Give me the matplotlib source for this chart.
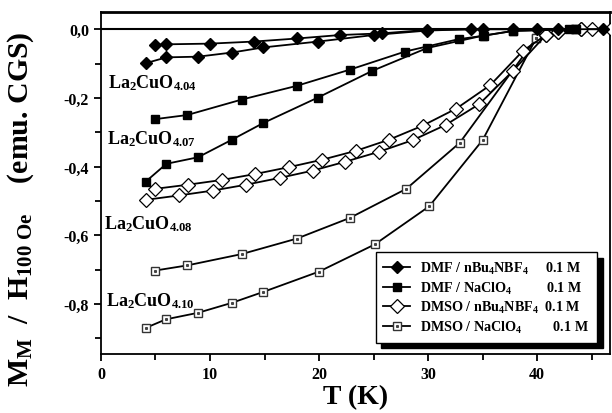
import matplotlib
matplotlib.use("Agg")
import matplotlib.pyplot as plt
from matplotlib.legend_handler import HandlerTuple
from matplotlib.ticker import MultipleLocator, FuncFormatter

plt.rcParams['font.family'] = ['Liberation Serif', 'DejaVu Serif']
plt.rcParams['font.weight'] = 'bold'
plt.rcParams['mathtext.fontset'] = 'custom'
plt.rcParams['mathtext.rm'] = 'Liberation Serif:bold'
plt.rcParams['mathtext.it'] = 'Liberation Serif:bold'
plt.rcParams['mathtext.bf'] = 'Liberation Serif:bold'

# DMF / nBu4NBF4 (La2CuO4.04), two curves
t_dmf_bf4_a = [5, 6, 10, 14, 18, 21.9, 25.8, 29.9, 35, 40, 46]
m_dmf_bf4_a = [-0.046, -0.044, -0.042, -0.036, -0.027, -0.017, -0.012, -0.002, 0, 0, 0]
t_dmf_bf4_b = [4.1, 6, 8.9, 12, 14.9, 19.9, 25, 29.9, 33.9, 37.8, 41.9]
m_dmf_bf4_b = [-0.099, -0.082, -0.080, -0.068, -0.053, -0.036, -0.017, -0.004, 0, 0, 0]

# DMF / NaClO4 (La2CuO4.07)
t_dmf_clo4_a = [4.95, 7.9, 12.9, 17.95, 22.8, 27.9, 32.8, 35.1, 37.8, 42.9]
m_dmf_clo4_a = [-0.262, -0.25, -0.205, -0.165, -0.118, -0.065, -0.029, -0.019, -0.005, 0]
t_dmf_clo4_b = [4.1, 6, 8.9, 12, 14.9, 19.9, 24.9, 29.9, 35, 37.8, 43.6]
m_dmf_clo4_b = [-0.444, -0.392, -0.373, -0.322, -0.273, -0.199, -0.121, -0.055, -0.019, -0.005, 0]

# DMSO / nBu4NBF4 (La2CuO4.08)
t_dmso_bf4_a = [4.95, 7.95, 11.1, 14.1, 17.2, 20.3, 23.4, 26.4, 29.5, 32.6, 35.7, 38.7, 40.8, 41.9, 44, 45]
m_dmso_bf4_a = [-0.465, -0.453, -0.439, -0.422, -0.402, -0.38, -0.354, -0.322, -0.281, -0.231,
                -0.163, -0.063, -0.017, -0.008, 0, 0]
t_dmso_bf4_b = [4.1, 7.2, 10.25, 13.3, 16.4, 19.4, 22.4, 25.5, 28.6, 31.6, 34.7, 37.8, 40.8, 41.9, 44, 46.8]
m_dmso_bf4_b = [-0.497, -0.484, -0.47, -0.453, -0.433, -0.412, -0.386, -0.357, -0.323, -0.279,
                -0.218, -0.121, -0.017, -0.008, 0, 0]

# DMSO / NaClO4 (La2CuO4.10)
t_dmso_clo4_a = [4.95, 7.9, 12.9, 17.95, 22.8, 28, 32.9, 39.9, 43.5]
m_dmso_clo4_a = [-0.703, -0.688, -0.655, -0.61, -0.55, -0.465, -0.331, -0.027, 0]
t_dmso_clo4_b = [4.1, 5.96, 8.9, 12, 14.9, 20, 25.1, 30.1, 35, 39.9, 43.5]
m_dmso_clo4_b = [-0.87, -0.845, -0.826, -0.797, -0.765, -0.706, -0.627, -0.516, -0.323, -0.027, 0]

labels = [r'DMF / nBu$_4$NBF$_4$     0.1 M',
          r'DMF / NaClO$_4$          0.1 M',
          r'DMSO / nBu$_4$NBF$_4$  0.1 M',
          r'DMSO / NaClO$_4$         0.1 M']
sample_names = [r'La$_2$CuO$_{4.04}$', r'La$_2$CuO$_{4.07}$',
                r'La$_2$CuO$_{4.08}$', r'La$_2$CuO$_{4.10}$']
sample_pos = [(0.65, -0.155), (0.55, -0.318), (0.3, -0.565), (0.5, -0.79)]

fig = plt.figure(figsize=(6.12, 4.14), dpi=100)
ax = fig.add_axes([0.165, 0.1425, 0.832, 0.826])

lw = 1.3
h1, = ax.plot(t_dmf_bf4_a, m_dmf_bf4_a, '-D', color='black', ms=6.5, lw=lw, zorder=5)
ax.plot(t_dmf_bf4_b, m_dmf_bf4_b, '-D', color='black', ms=6.5, lw=lw, zorder=5)
h2, = ax.plot(t_dmf_clo4_a, m_dmf_clo4_a, '-s', color='black', ms=6, lw=lw, zorder=5)
ax.plot(t_dmf_clo4_b, m_dmf_clo4_b, '-s', color='black', ms=6, lw=lw, zorder=5)
h3, = ax.plot(t_dmso_bf4_a, m_dmso_bf4_a, '-D', color='black', mfc='white', mew=0.9, ms=7, lw=lw, zorder=4)
ax.plot(t_dmso_bf4_b, m_dmso_bf4_b, '-D', color='black', mfc='white', mew=0.9, ms=7, lw=lw, zorder=4)
h4, = ax.plot(t_dmso_clo4_a, m_dmso_clo4_a, '-s', color='black', mec='#333333', mfc='white', mew=1.0, ms=6, lw=lw, zorder=3)
ax.plot(t_dmso_clo4_b, m_dmso_clo4_b, '-s', color='black', mec='#333333', mfc='white', mew=1.0, ms=6, lw=lw, zorder=3)
h4d, = ax.plot(t_dmso_clo4_a, m_dmso_clo4_a, ls='none', marker='s', ms=1.2, color='#444444', zorder=3.5)
ax.plot(t_dmso_clo4_b, m_dmso_clo4_b, ls='none', marker='s', ms=1.2, color='#444444', zorder=3.5)

ax.axhline(0, color='black', lw=1.5, zorder=2)

for name, (x, y) in zip(sample_names, sample_pos):
    ax.text(x, y, name, fontsize=13, fontweight='bold', ha='left', va='center')

ax.set_xlim(0, 46.7)
ax.set_ylim(-0.946, 0.05)
ax.xaxis.set_major_locator(MultipleLocator(10))
ax.xaxis.set_minor_locator(MultipleLocator(5))
ax.yaxis.set_major_locator(MultipleLocator(0.2))
ax.yaxis.set_minor_locator(MultipleLocator(0.1))
ax.yaxis.set_major_formatter(FuncFormatter(lambda v, p: ('%.1f' % v).replace('.', ',').replace('-0,0', '0,0')))
ax.tick_params(which='both', direction='out', width=1.3, labelsize=11.5)
ax.tick_params(which='major', length=5)
ax.tick_params(which='minor', length=4)
for s in ax.spines.values():
    s.set_linewidth(1.3)
ax.spines['top'].set_linewidth(2)

ax.set_xlabel('T (K)', fontsize=20, fontweight='bold', labelpad=2)
ax.set_ylabel(r'M$_\mathrm{M}$  /  H$_{100\ Oe}$    (emu. CGS)', fontsize=21.5, fontweight='bold')
ax.yaxis.set_label_coords(-0.128, 0.425)

leg = ax.legend([h1, h2, h3, (h4, h4d)], labels, loc='lower right',
                bbox_to_anchor=(0.988, 0.012), fontsize=10.2, frameon=True, fancybox=False,
                edgecolor='black', framealpha=1, handlelength=1.9, borderpad=0.55,
                labelspacing=0.25, handletextpad=0.7,
                handler_map={tuple: HandlerTuple(ndivide=1, pad=0)},
                shadow={'color': 'black', 'alpha': 1, 'ox': 4, 'oy': -4})
leg.get_frame().set_linewidth(1.0)

fig.savefig('out.png', dpi=100)
